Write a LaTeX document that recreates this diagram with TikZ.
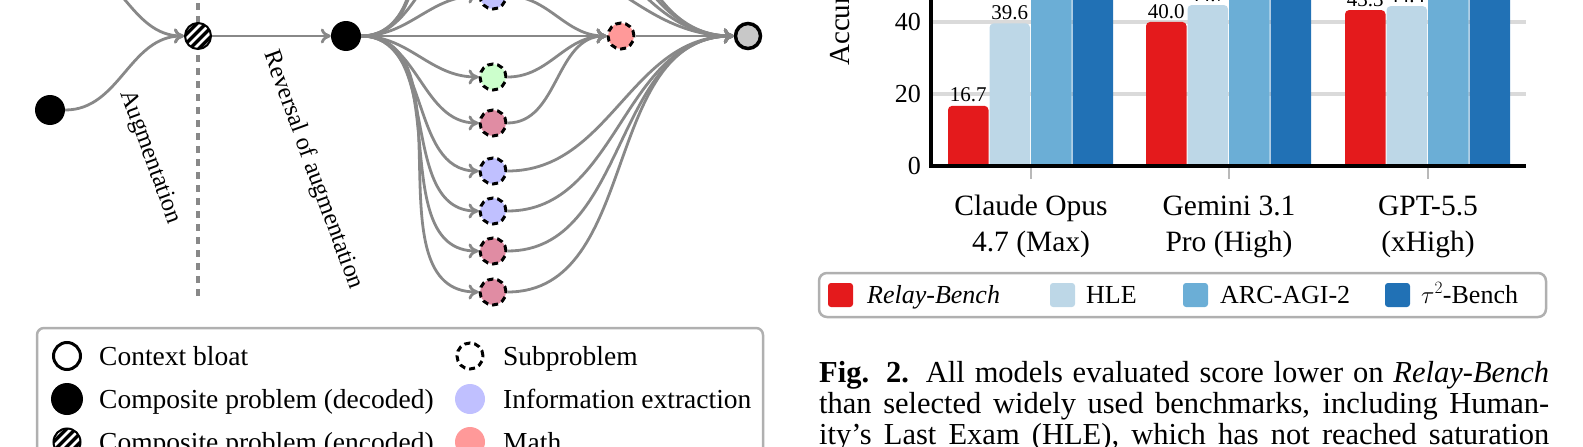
\documentclass[tikz,border=0pt]{standalone}
\usepackage{fontspec}
\setmainfont{Liberation Serif}
\usetikzlibrary{arrows.meta}
\definecolor{edgegray}{HTML}{888888}
\definecolor{infoc}{HTML}{C0C0FF}
\definecolor{mathc}{HTML}{FF9999}
\definecolor{greenc}{HTML}{CCFFCC}
\definecolor{pinkc}{HTML}{E08CA3}
\definecolor{finalc}{HTML}{C8C8C8}
\definecolor{relayc}{HTML}{E41A1C}
\definecolor{hlec}{HTML}{BDD7E7}
\definecolor{arcc}{HTML}{6BAED6}
\definecolor{tauc}{HTML}{2171B5}
\definecolor{gridc}{HTML}{DADADA}
\definecolor{boxc}{HTML}{B0B0B0}
\newcommand\chartbar[3]{\fill[#3, rounded corners=4pt] (#1,180) rectangle ({#1+40.5},{166-3.6*#2});}
\begin{document}
\begin{tikzpicture}[x=1pt,y=-1pt,
  edge/.style={draw=edgegray, line width=2.8pt, -{Computer Modern Rightarrow[length=10pt,width=15pt]}},
  solidnode/.style={circle, fill=black, minimum size=30pt, inner sep=0pt},
  hatchnode/.style={circle, fill=black, draw=black, line width=2pt, minimum size=26pt, inner sep=0pt,
    path picture={\foreach \k in {-4,...,4}{\draw[white,line width=2.6pt] ([xshift=\k*9pt-20pt, yshift=-20pt]path picture bounding box.center) -- ++(40,-40);}}},
  subnode/.style={circle, draw=black, line width=3pt, dash pattern=on 6pt off 4pt, minimum size=26pt, inner sep=0pt},
  finalnode/.style={circle, draw=black, fill=finalc, line width=3.5pt, minimum size=25pt, inner sep=0pt},
  legtext/.style={anchor=base west, inner sep=0pt, font=\fontsize{27.5pt}{32pt}\selectfont},
  rotlab/.style={rotate=-70, inner sep=0pt, font=\fontsize{24.5pt}{28pt}\selectfont},
  captext/.style={anchor=base west, inner sep=0pt, font=\fontsize{30.5pt}{32pt}\selectfont},
  catlab/.style={anchor=base, inner sep=0pt, font=\fontsize{29.5pt}{34pt}\selectfont},
  ticklab/.style={anchor=east, inner sep=0pt, font=\fontsize{26pt}{30pt}\selectfont},
  vallab/.style={anchor=base, inner sep=0pt, font=\fontsize{21pt}{25pt}\selectfont},
  keytext/.style={anchor=base west, inner sep=0pt, font=\fontsize{26pt}{30pt}\selectfont},
  keysq/.style={rounded corners=3pt, minimum width=25pt, minimum height=24pt, inner sep=0pt},
]
\useasboundingbox (0,0) rectangle (1583,447);
\clip (0,0) rectangle (1583,447);

% ---------- left diagram ----------
\coordinate (vtop) at (198,-10);
\coordinate (vbot) at (198,302);
\draw[edgegray, line width=3.2pt, dash pattern=on 7pt off 6pt] (vtop) -- (vbot);

\node[solidnode] (src) at (50,110) {};
\coordinate (topsrc) at (65,-38);
\node[hatchnode] (enc) at (198,36) {};
\node[solidnode] (dec) at (346,36) {};
\node[subnode, fill=infoc] (t1) at (493,-4) {};
\node[subnode, fill=greenc] (s1) at (493,77) {};
\node[subnode, fill=pinkc] (s2) at (493,123) {};
\node[subnode, fill=infoc] (s3) at (493,171) {};
\node[subnode, fill=infoc] (s4) at (493,211) {};
\node[subnode, fill=pinkc] (s5) at (493,251) {};
\node[subnode, fill=pinkc] (s6) at (493,292) {};
\node[subnode, fill=mathc] (m) at (621,36) {};
\node[finalnode] (fin) at (748,36) {};
\foreach \i/\yy in {1/-50,2/-95,3/-140,4/-185}{
  \coordinate (h\i in) at (479,\yy);
  \coordinate (h\i out) at (507,\yy);
}

\draw[edge] (src) to[out=0,in=180] (enc);
\draw[edge] (topsrc) to[out=0,in=180] (enc);
\draw[edge] (enc) -- (dec);
\foreach \n in {t1,s1,s2,s3,s4,s5,s6}{\draw[edge] (dec) to[out=0,in=180] (\n);}
\foreach \i in {1,2,3,4}{\draw[edge] (dec) to[out=0,in=180] (h\i in);}
\draw[edge] (dec) -- (m);
\foreach \n in {t1,s1,s2}{\draw[edge] (\n) to[out=0,in=180] (m);}
\draw[edge] (m) -- (fin);
\foreach \n in {s3,s4,s5,s6}{\draw[edge] (\n) to[out=0,in=180] (fin);}
\foreach \i in {1,2,3,4}{\draw[edge] (h\i out) to[out=0,in=180] (fin);}

\node[rotlab] (lab1) at (150,157) {Augmentation};
\node[rotlab] (lab2) at (313,170) {Reversal of augmentation};

% ---------- left legend ----------
\draw[boxc, line width=2.5pt, rounded corners=7pt] (37,328) rectangle (763,480);
\node[circle, draw=black, fill=white, line width=3pt, minimum size=27pt, inner sep=0pt] (lg1) at (67,356) {};
\node[legtext] (lt1) at (99,365) {Context bloat};
\node[solidnode, minimum size=32pt] (lg2) at (67,399) {};
\node[legtext] (lt2) at (99,408) {Composite problem (decoded)};
\node[hatchnode, minimum size=27pt] (lg3) at (67,442) {};
\node[legtext] (lt3) at (99,451) {Composite problem (encoded)};
\node[subnode] (lg4) at (470,356) {};
\node[legtext] (lt4) at (503,365) {Subproblem};
\node[circle, fill=infoc, minimum size=30pt, inner sep=0pt] (lg5) at (470,399) {};
\node[legtext] (lt5) at (503,408) {Information extraction};
\node[circle, fill=mathc, minimum size=30pt, inner sep=0pt] (lg6) at (470,442) {};
\node[legtext] (lt6) at (503,451) {Math};

% ---------- chart ----------
\draw[gridc, line width=3.5pt] (933,22) -- (1526,22);
\draw[gridc, line width=3.5pt] (933,94) -- (1526,94);
\foreach \c in {1031,1229,1428}{\draw[gridc!85!black, line width=1.2pt] (\c,166) -- (\c,179);}
\begin{scope}
\clip (935,-60) rectangle (1600,166);
\chartbar{948}{16.7}{relayc}
\chartbar{989.5}{39.6}{hlec}
\chartbar{1031}{80}{arcc}
\chartbar{1072.5}{90}{tauc}
\chartbar{1146}{40.0}{relayc}
\chartbar{1187.5}{44.7}{hlec}
\chartbar{1229}{80}{arcc}
\chartbar{1270.5}{90}{tauc}
\chartbar{1345}{43.3}{relayc}
\chartbar{1386.5}{44.4}{hlec}
\chartbar{1428}{80}{arcc}
\chartbar{1469.5}{90}{tauc}
\end{scope}
\node[vallab] (v1) at (968.25,{166-3.6*16.7-4}) {16.7};
\node[vallab] (v2) at (1009.75,{166-3.6*39.6-4}) {39.6};
\node[vallab] (v3) at (1166.25,{166-3.6*40.0-4}) {40.0};
\node[vallab] (v4) at (1207.75,{166-3.6*44.7-4}) {44.7};
\node[vallab] (v5) at (1365.25,{166-3.6*43.3-4}) {43.3};
\node[vallab] (v6) at (1406.75,{166-3.6*44.4-4}) {44.4};
\draw[black, line width=4pt] (931,-10) -- (931,168);
\draw[black, line width=4pt] (929,166) -- (1526,166);
\node[ticklab] (y0) at (921,166) {0};
\node[ticklab] (y20) at (921,94) {20};
\node[ticklab] (y40) at (921,22) {40};
\node[rotate=90, anchor=west, inner sep=0pt, font=\fontsize{29pt}{34pt}\selectfont] (ylab) at (843,66) {Accuracy (\%)};
\node[catlab] (c1a) at (1031,215) {Claude Opus};
\node[catlab] (c1b) at (1031,251) {4.7 (Max)};
\node[catlab] (c2a) at (1229,215) {Gemini 3.1};
\node[catlab] (c2b) at (1229,251) {Pro (High)};
\node[catlab] (c3a) at (1428,215) {GPT-5.5};
\node[catlab] (c3b) at (1428,251) {(xHigh)};

% ---------- chart legend ----------
\draw[boxc, line width=2.5pt, rounded corners=8pt] (819,273) rectangle (1546,317);
\node[keysq, fill=relayc] (k1) at (840.5,295) {};
\node[keytext] (kt1) at (867,303) {\textit{Relay-Bench}};
\node[keysq, fill=hlec] (k2) at (1062.5,295) {};
\node[keytext] (kt2) at (1086,303) {HLE};
\node[keysq, fill=arcc] (k3) at (1195.5,295) {};
\node[keytext] (kt3) at (1220,303) {ARC-AGI-2};
\node[keysq, fill=tauc] (k4) at (1397.5,295) {};
\node[keytext] (kt4) at (1421,303) {$\tau^2$-Bench};

% ---------- caption ----------
\node[captext] (cap1) at (819,382) {\hbox to 730pt{\textbf{Fig. 2.} All models evaluated score lower on \textit{Relay-Bench}}};
\node[captext] (cap2) at (819,413) {\hbox to 730pt{than selected widely used benchmarks, including Human-}};
\node[captext] (cap3) at (819,444) {\hbox to 730pt{ity’s Last Exam (HLE), which has not reached saturation}};
\end{tikzpicture}
\end{document}
